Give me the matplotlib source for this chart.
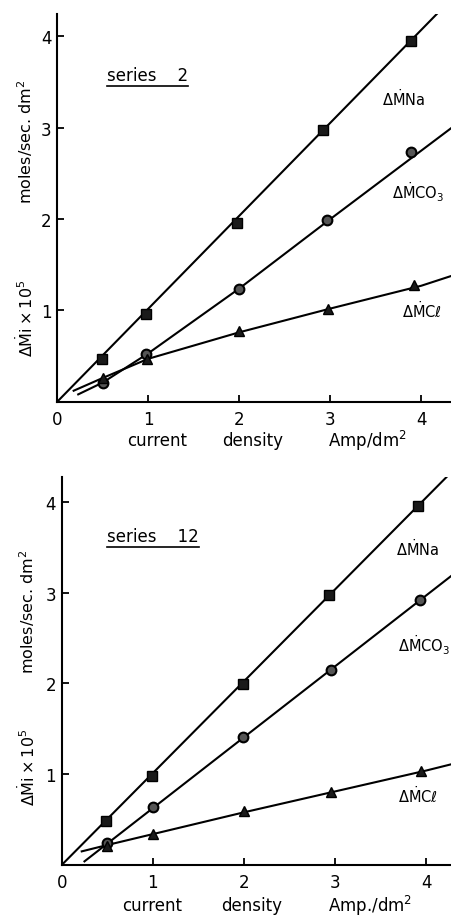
import matplotlib
matplotlib.use('Agg')
import matplotlib.pyplot as plt

# ---- data ----
# series 2 (top panel)
s2_na_x = [0.49, 0.97, 1.97, 2.92, 3.89]
s2_na_y = [0.47, 0.96, 1.96, 2.98, 3.95]
s2_co3_x = [0.50, 0.97, 2.00, 2.96, 3.89]
s2_co3_y = [0.21, 0.52, 1.23, 1.99, 2.73]
s2_cl_x = [0.50, 0.99, 2.00, 2.97, 3.92]
s2_cl_y = [0.26, 0.47, 0.77, 1.02, 1.28]

# drawn curves, series 2
s2_na_fit_x = [0.0, 4.4]
s2_na_fit_y = [0.0, 4.48]
s2_co3_fit_x = [0.23, 0.5, 1.0, 2.0, 3.0, 4.0, 4.4]
s2_co3_fit_y = [0.08, 0.21, 0.53, 1.24, 2.0, 2.75, 3.05]
s2_cl_fit_x = [0.18, 0.5, 1.0, 2.0, 3.0, 4.0, 4.4]
s2_cl_fit_y = [0.12, 0.26, 0.47, 0.76, 1.02, 1.27, 1.40]

# series 12 (bottom panel)
s12_na_x = [0.49, 0.99, 1.99, 2.93, 3.91]
s12_na_y = [0.48, 0.98, 1.99, 2.97, 3.95]
s12_co3_x = [0.50, 1.00, 1.99, 2.96, 3.93]
s12_co3_y = [0.24, 0.64, 1.41, 2.15, 2.92]
s12_cl_x = [0.50, 1.00, 2.00, 2.96, 3.94]
s12_cl_y = [0.21, 0.34, 0.59, 0.80, 1.04]

# drawn curves, series 12
s12_na_fit_x = [0.0, 4.4]
s12_na_fit_y = [0.0, 4.45]
s12_co3_fit_x = [0.25, 4.4]
s12_co3_fit_y = [0.04, 3.28]
s12_cl_fit_x = [0.22, 0.5, 1.0, 2.0, 3.0, 4.0, 4.4]
s12_cl_fit_y = [0.15, 0.22, 0.34, 0.58, 0.81, 1.04, 1.14]

x_ticks = [0, 1, 2, 3, 4]
y_ticks = [1, 2, 3, 4]

label_na = r'$\Delta\dot{\rm M}$Na'
label_co3 = r'$\Delta\dot{\rm M}$CO$_3$'
label_cl = r'$\Delta\dot{\rm M}$C$\ell$'

plt.rcParams['font.family'] = ['DejaVu Sans']
plt.rcParams['mathtext.fontset'] = 'dejavusans'

fig = plt.figure(figsize=(4.51, 9.2), dpi=100)


def draw_panel(ax, xmax, ymax, pts, fits, labels, series_text, series_pos):
    ax.set_xlim(0, xmax)
    ax.set_ylim(0, ymax)
    for spine in ['top', 'right']:
        ax.spines[spine].set_visible(False)
    for spine in ['left', 'bottom']:
        ax.spines[spine].set_linewidth(1.5)

    for (fx, fy) in fits:
        ax.plot(fx, fy, color='black', linewidth=1.5, zorder=2)

    (na_x, na_y), (co3_x, co3_y), (cl_x, cl_y) = pts
    ax.plot(na_x, na_y, 's', color='#1a1a1a', markersize=7,
            markeredgecolor='black', linestyle='none', zorder=3)
    ax.plot(co3_x, co3_y, 'o', color='#555555', markersize=7,
            markeredgecolor='black', markeredgewidth=1.5, linestyle='none', zorder=3)
    ax.plot(cl_x, cl_y, '^', color='#1a1a1a', markersize=7,
            markeredgecolor='black', linestyle='none', zorder=3)

    for (lx, ly, txt) in labels:
        ax.text(lx, ly, txt, fontsize=10.5, ha='right', va='center')

    ax.set_xticks(x_ticks)
    ax.set_xticklabels([str(t) for t in x_ticks])
    ax.set_yticks(y_ticks)
    ax.set_yticklabels([str(t) for t in y_ticks])
    ax.tick_params(direction='in', length=5, width=1.3, labelsize=12)
    ax.tick_params(axis='x', pad=6)
    ax.tick_params(axis='y', pad=4)

    st = ax.text(series_pos[0], series_pos[1], series_text, fontsize=12,
                 ha='left', va='center')
    return st


# top panel
ax1 = fig.add_axes([0.127, 0.5623, 0.873, 0.4214])
st1 = draw_panel(
    ax1, 4.326, 4.246,
    [(s2_na_x, s2_na_y), (s2_co3_x, s2_co3_y), (s2_cl_x, s2_cl_y)],
    [(s2_na_fit_x, s2_na_fit_y), (s2_co3_fit_x, s2_co3_fit_y), (s2_cl_fit_x, s2_cl_fit_y)],
    [(4.04, 3.33, label_na), (4.25, 2.30, label_co3), (4.23, 1.01, label_cl)],
    'series    2', (0.55, 3.58),
)

# bottom panel
ax2 = fig.add_axes([0.1368, 0.0587, 0.863, 0.4217])
st2 = draw_panel(
    ax2, 4.273, 4.273,
    [(s12_na_x, s12_na_y), (s12_co3_x, s12_co3_y), (s12_cl_x, s12_cl_y)],
    [(s12_na_fit_x, s12_na_fit_y), (s12_co3_fit_x, s12_co3_fit_y), (s12_cl_fit_x, s12_cl_fit_y)],
    [(4.14, 3.50, label_na), (4.26, 2.43, label_co3), (4.13, 0.78, label_cl)],
    'series    12', (0.50, 3.62),
)

# axis titles, placed like the hand lettering of the original
for (x, y_lo, y_hi) in [(0.056, 0.654, 0.846), (0.060, 0.166, 0.335)]:
    fig.text(x, y_lo, r'$\Delta\dot{\rm M}{\rm i}\times10^5$', rotation=90,
             fontsize=11.5, ha='center', va='center')
    fig.text(x, y_hi, 'moles/sec. dm$^2$', rotation=90,
             fontsize=11.5, ha='center', va='center')

for (y, a, b, c, unit) in [(0.521, 0.348, 0.561, 0.814, 'Amp/dm$^2$'),
                           (0.015, 0.337, 0.559, 0.820, 'Amp./dm$^2$')]:
    fig.text(a, y, 'current', fontsize=12, ha='center', va='center')
    fig.text(b, y, 'density', fontsize=12, ha='center', va='center')
    fig.text(c, y, unit, fontsize=12, ha='center', va='center')

# underline the series captions
fig.canvas.draw()
for st in (st1, st2):
    bb = st.get_window_extent().transformed(fig.transFigure.inverted())
    fig.add_artist(plt.Line2D([bb.x0, bb.x1], [bb.y0 - 0.002, bb.y0 - 0.002],
                              color='black', linewidth=1.2,
                              transform=fig.transFigure))

fig.savefig('out.png', dpi=100)
plt.close(fig)
